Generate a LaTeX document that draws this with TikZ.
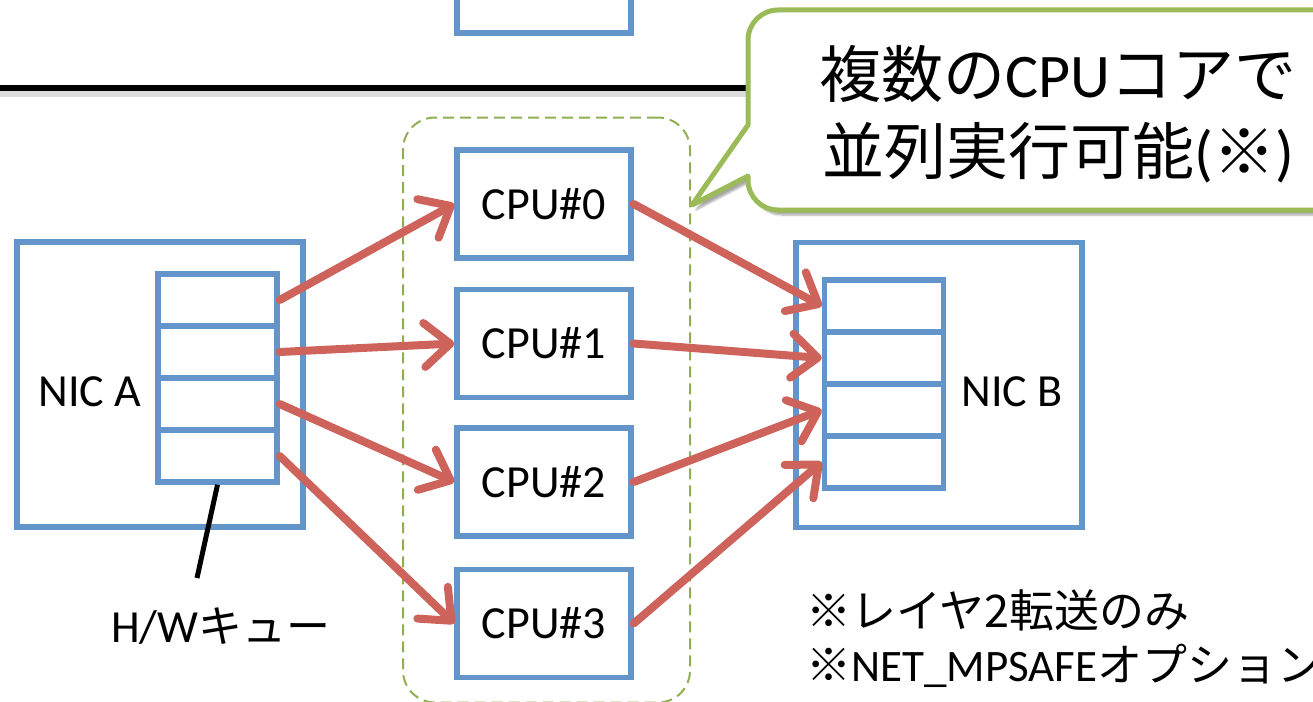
\documentclass[tikz,border=0pt]{standalone}
\usepackage{fontspec}
\setmainfont{Carlito}
\newfontfamily\jp{Noto Sans CJK JP}
\usetikzlibrary{arrows.meta,shadows.blur,calc}
\definecolor{boxblue}{RGB}{99,148,202}
\definecolor{flowred}{RGB}{205,99,90}
\definecolor{calloutgreen}{RGB}{155,187,89}
\definecolor{groupgreen}{RGB}{143,175,80}
\tikzset{
  unitbox/.style={draw=boxblue, line width=5.5pt, fill=white, inner sep=0pt},
  cpubox/.style={unitbox, minimum width=174pt, minimum height=108pt,
    font=\fontsize{46}{50}\selectfont},
  nicbox/.style={unitbox, minimum width=286pt, minimum height=285pt},
  cell/.style={unitbox, minimum width=119pt, minimum height=52pt},
  flow/.style={draw=flowred, line width=8pt, line cap=round,
    -{Straight Barb[length=26pt, width=44pt, line cap=round, line join=round]}},
  label/.style={inner sep=0pt, font=\fontsize{46}{50}\selectfont},
}
\begin{document}
\begin{tikzpicture}[x=1pt, y=-1pt]
  \useasboundingbox (0,0) rectangle (1313,701);
  \clip (0,0) rectangle (1313,701);

  % upper section: separator rule and the box above it
  \node[unitbox, minimum width=174pt, minimum height=60pt] (upper) at (544,3) {};
  \coordinate (ruleL) at (0,88);
  \coordinate (ruleR) at (900,88);
  \draw[black!30, line width=6pt, opacity=0.45] ($(ruleL)+(0,6)$) -- ($(ruleR)+(0,6)$);
  \draw[black, line width=6.5pt] (ruleL) -- (ruleR);

  % group of CPU cores
  \node[draw=groupgreen, dash pattern=on 11pt off 6pt, line width=2pt,
        rounded corners=32pt, minimum width=287pt, minimum height=585pt,
        inner sep=0pt] (cores) at (546.5,410) {};

  \node[cpubox] (cpu0) at (544,204)   {CPU\#0};
  \node[cpubox] (cpu1) at (544,343.5) {CPU\#1};
  \node[cpubox] (cpu2) at (544,482)   {CPU\#2};
  \node[cpubox] (cpu3) at (544,623.5) {CPU\#3};

  % NIC A with its hardware queue
  \node[nicbox] (nica) at (160,384.5) {};
  \node[label] (nicaT) at (90,392) {NIC A};
  \node[cell] (qa1) at (217.5,300) {};
  \node[cell] (qa2) at (217.5,352) {};
  \node[cell] (qa3) at (217.5,404) {};
  \node[cell] (qa4) at (217.5,456) {};

  % NIC B with its hardware queue
  \node[nicbox] (nicb) at (939,385) {};
  \node[label] (nicbT) at (1012,392) {NIC B};
  \node[cell] (qb1) at (884,306) {};
  \node[cell] (qb2) at (884,358) {};
  \node[cell] (qb3) at (884,410) {};
  \node[cell] (qb4) at (884,462) {};

  % queue pointer and its label
  \coordinate (hwtip) at (197,578);
  \draw[black, line width=5pt] (qa4.south) -- (hwtip);
  \node[label] (hwq) at (221,626) {H/W{\jp\fontsize{44}{50}\selectfont キュー}};

  % packet flows: NIC A queue -> CPU cores -> NIC B queue
  \draw[flow] (qa1.east) -- (cpu0.west);
  \draw[flow] (qa2.east) -- (cpu1.west);
  \draw[flow] (qa3.east) -- (cpu2.west);
  \draw[flow] (qa4.east) -- (cpu3.west);
  \draw[flow] (cpu0.east) -- (qb1.west);
  \draw[flow] (cpu1.east) -- (qb2.west);
  \draw[flow] (cpu2.east) -- (qb3.west);
  \draw[flow] (cpu3.east) -- (qb4.west);

  % speech bubble pointing at the core group
  \coordinate (tip) at (692,205);
  \path[draw=calloutgreen, line width=5pt, fill=white, line join=round,
        blur shadow={shadow xshift=4pt, shadow yshift=-5pt, shadow blur steps=6, shadow opacity=35}]
    (tip) -- (748,125) [rounded corners=30pt] -- (748,10) -- (1345,10)
    -- (1345,210) -- (748,210) [sharp corners] -- (748,176) -- cycle;
  \node[inner sep=0pt, align=center, font=\fontsize{62}{77}\selectfont] (note) at (1058,114)
    {{\jp 複数の}CPU{\jp コアで}\\{\jp 並列実行可能}({\jp ※})};

  % footnotes
  \node[inner sep=0pt, anchor=west, align=left, font=\jp\fontsize{45}{54}\selectfont] (foot) at (806,639)
    {※レイヤ2転送のみ\\※{\rmfamily NET\_MPSAFE}オプション};
\end{tikzpicture}
\end{document}
